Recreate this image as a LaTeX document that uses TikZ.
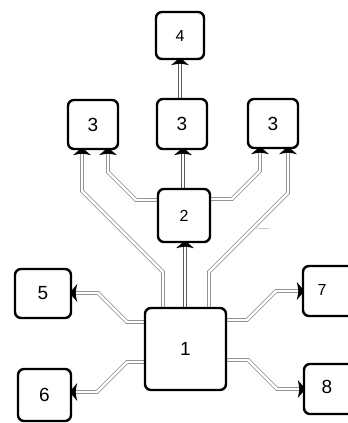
\documentclass[tikz,border=0pt]{standalone}
\usepackage{fontspec}
\setmainfont{Liberation Sans}
\usetikzlibrary{backgrounds}
\tikzset{
  box/.style={draw=black, fill=white, line width=2.4pt, rounded corners=6pt, inner sep=0pt},
  conn/.style={draw=black!65, line width=0.6pt, double=white, double distance=2.6pt},
  arrowflare/.pic={\fill[black] (1pt,2pt) -- (-5pt,9pt) .. controls (-4pt,4pt) and (-3.5pt,2pt) .. (-3.5pt,0pt) .. controls (-3.5pt,-2pt) and (-4pt,-4pt) .. (-5pt,-9pt) -- (1pt,-2pt) -- cycle;},
  big/.style={font=\fontsize{19}{19}\selectfont},
  mid/.style={font=\fontsize{16}{16}\selectfont},
}
\begin{document}
\begin{tikzpicture}[x=1pt,y=-1pt]
\useasboundingbox (0,0) rectangle (348,423);
\clip (0,0) rectangle (348,423);
% boxes
\node[box, minimum width=48pt, minimum height=47pt, mid] (b4) at (180,35.5) {4};
\node[box, minimum width=50pt, minimum height=49pt, big] (b3l) at (93,124.5) {3};
\node[box, minimum width=50pt, minimum height=50pt, big] (b3m) at (182,124) {3};
\node[box, minimum width=50pt, minimum height=49pt, big] (b3r) at (273,123.5) {3};
\node[box, minimum width=52pt, minimum height=53pt, mid] (b2) at (184,215.5) {2};
\node[box, minimum width=81pt, minimum height=82pt, big] (b1) at (185.5,349) {1};
\node[box, minimum width=56pt, minimum height=49pt, big] (b5) at (43,293.5) {5};
\node[box, minimum width=53pt, minimum height=52pt, big] (b6) at (44.5,395) {6};
\node[box, minimum width=52pt, minimum height=50pt] (b7) at (329,291) {};
\node[box, minimum width=52pt, minimum height=50pt] (b8) at (330,389) {};
\node[mid] (t7) at (322,290) {7};
\node[big] (t8) at (327,387) {8};
% bend points
\coordinate (ol1) at (163,272); \coordinate (ol2) at (82,191);
\coordinate (il1) at (136,200); \coordinate (il2) at (108,172);
\coordinate (ir1) at (232,199); \coordinate (ir2) at (260,171);
\coordinate (or1) at (209,272); \coordinate (or2) at (288,193);
\coordinate (m1) at (183,170); \coordinate (m2) at (180,80);
\coordinate (c1) at (185,270);
\coordinate (s5a) at (127,322); \coordinate (s5b) at (98,293);
\coordinate (s6a) at (127,362); \coordinate (s6b) at (97,392);
\coordinate (s7a) at (247,320); \coordinate (s7b) at (276,291);
\coordinate (s8a) at (248,360); \coordinate (s8b) at (277,389);
\coordinate (tk1) at (256,228); \coordinate (tk2) at (270,229);
\begin{pgfonlayer}{background}
\draw[conn] (b1.north -| ol1) -- (ol1) -- (ol2) -- (b3l.south -| ol2);
\draw[conn] (b2.west |- il1) -- (il1) -- (il2) -- (b3l.south -| il2);
\draw[conn] (b2.north -| m1) -- (b3m.south -| m1);
\draw[conn] (b3m.north -| m2) -- (b4.south -| m2);
\draw[conn] (b2.east |- ir1) -- (ir1) -- (ir2) -- (b3r.south -| ir2);
\draw[conn] (b1.north -| or1) -- (or1) -- (or2) -- (b3r.south -| or2);
\draw[conn] (b1.north -| c1) -- (b2.south -| c1);
\draw[conn] (b1.west |- s5a) -- (s5a) -- (s5b) -- (b5.east |- s5b);
\draw[conn] (b1.west |- s6a) -- (s6a) -- (s6b) -- (b6.east |- s6b);
\draw[conn] (b1.east |- s7a) -- (s7a) -- (s7b) -- (b7.west |- s7b);
\draw[conn] (b1.east |- s8a) -- (s8a) -- (s8b) -- (b8.west |- s8b);
\draw[gray!70, line width=0.5pt] (tk1) -- (tk2);
\end{pgfonlayer}
% arrowheads
\pic[rotate=90] at (b3l.south -| ol2) {arrowflare};
\pic[rotate=90] at (b3l.south -| il2) {arrowflare};
\pic[rotate=90] at (b3m.south -| m1) {arrowflare};
\pic[rotate=90] at (b4.south -| m2) {arrowflare};
\pic[rotate=90] at (b3r.south -| ir2) {arrowflare};
\pic[rotate=90] at (b3r.south -| or2) {arrowflare};
\pic[rotate=90] at (b2.south -| c1) {arrowflare};
\pic[rotate=180] at (b5.east |- s5b) {arrowflare};
\pic[rotate=180] at (b6.east |- s6b) {arrowflare};
\pic at (b7.west |- s7b) {arrowflare};
\pic at (b8.west |- s8b) {arrowflare};
\end{tikzpicture}
\end{document}
